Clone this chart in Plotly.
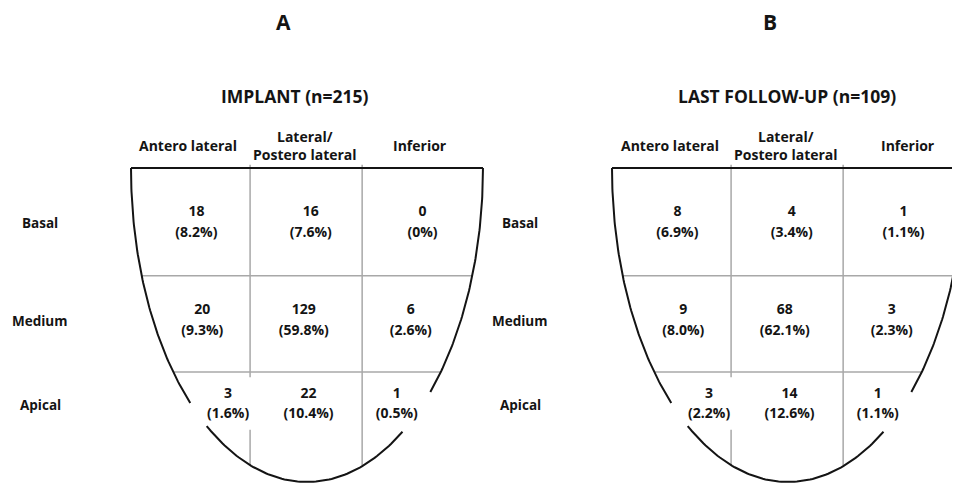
import numpy as np
import plotly.graph_objects as go

# ---------------- data ----------------
columns = ["Antero lateral", "Lateral/<br>Postero lateral", "Inferior"]
rows = ["Basal", "Medium", "Apical"]
panel_letters = ["A", "B"]
panel_titles = ["IMPLANT (n=215)", "LAST FOLLOW-UP (n=109)"]

implant_counts = [[18, 16, 0], [20, 129, 6], [3, 22, 1]]
implant_pct = [["8.2%", "7.6%", "0%"], ["9.3%", "59.8%", "2.6%"], ["1.6%", "10.4%", "0.5%"]]
followup_counts = [[8, 4, 1], [9, 68, 3], [3, 14, 1]]
followup_pct = [["6.9%", "3.4%", "1.1%"], ["8.0%", "62.1%", "2.3%"], ["2.2%", "12.6%", "1.1%"]]

# ---------------- geometry / style ----------------
COL_EDGES = [-0.5, 0.515, 1.47, 2.5]      # column boundaries (column units)
ROW_LINES = [1.03, 1.95]                  # row boundaries (row units)
ROW_Y = [0.525, 1.46, 2.26]               # text row centres
CELL_NUDGE = [[0.05, 0.04, 0.0], [0.1, -0.02, -0.1], [0.32, 0.02, -0.22]]
LINE_GAP = 0.098                          # half spacing between count and pct
ELL_CX, ELL_A, ELL_B = 1.0, 1.5, 3.0

FONT = "Open Sans"
INK = "#141414"
GRID = "#a8a8a8"

W, H = 960, 486
BODY = 8                 # page body margin offset
SX, SY = 117.33, 104.67  # px per unit
HEART_X0 = [131, 612]    # screen px of left heart edge
HEART_Y0 = 168           # screen px of top edge
FIG_DOMAINS = [(0, 500), (460, 960)]

fig = go.Figure()


def ell_pts(t0, t1, n=80):
    t = np.linspace(t0, t1, n)
    return ELL_CX + ELL_A * np.cos(t), ELL_B * np.sin(t)


def ell_x_at(y, side):
    return ELL_CX + side * ELL_A * np.sqrt(max(0.0, 1 - (y / ELL_B) ** 2))


def ell_y_at(x):
    return ELL_B * np.sqrt(max(0.0, 1 - ((x - ELL_CX) / ELL_A) ** 2))


def xu(px_screen, p):
    return (px_screen - HEART_X0[p]) / SX - 0.5


def yu(px_screen):
    return (px_screen - HEART_Y0) / SY


panels = [(implant_counts, implant_pct), (followup_counts, followup_pct)]

for p, (counts, pcts) in enumerate(panels):
    xa = "x" if p == 0 else "x2"
    ya = "y" if p == 0 else "y2"

    # ---- grid lines (grey) ----
    gx, gy = [], []
    for yl in ROW_LINES:
        gx += [ell_x_at(yl, -1), ell_x_at(yl, 1), None]
        gy += [yl, yl, None]
    x1 = COL_EDGES[1]
    gx += [x1, x1, None, x1, x1, None]
    gy += [-0.03, 2.0, None, 2.5, ell_y_at(x1), None]
    x2 = COL_EDGES[2]
    gx += [x2, x2, None]
    gy += [-0.03, ell_y_at(x2), None]
    fig.add_trace(go.Scatter(x=gx, y=gy, mode="lines", xaxis=xa, yaxis=ya,
                             line=dict(color=GRID, width=1.5), hoverinfo="skip",
                             showlegend=False))

    # ---- outline (black) ----
    ox, oy = [COL_EDGES[0], COL_EDGES[-1], None], [0, 0, None]
    for t0, t1 in [(0.0, np.arcsin(2.14 / 3)),
                   (np.arcsin(2.52 / 3), np.pi - np.arcsin(2.465 / 3)),
                   (np.pi - np.arcsin(2.245 / 3), np.pi)]:
        ex, ey = ell_pts(t0, t1)
        ox += list(ex) + [None]
        oy += list(ey) + [None]
    fig.add_trace(go.Scatter(x=ox, y=oy, mode="lines", xaxis=xa, yaxis=ya,
                             line=dict(color=INK, width=2), hoverinfo="skip",
                             showlegend=False))

    # ---- cell texts ----
    tx, ty_c, ty_p, tc, tp = [], [], [], [], []
    for r in range(3):
        for c in range(3):
            tx.append((COL_EDGES[c] + COL_EDGES[c + 1]) / 2 + CELL_NUDGE[r][c])
            ty_c.append(ROW_Y[r] - LINE_GAP)
            ty_p.append(ROW_Y[r] + LINE_GAP)
            tc.append(str(counts[r][c]))
            tp.append("(" + pcts[r][c] + ")")
    for ys, txt in [(ty_c, tc), (ty_p, tp)]:
        fig.add_trace(go.Scatter(x=tx, y=ys, text=txt, mode="text", xaxis=xa, yaxis=ya,
                                 textfont=dict(family=FONT, size=14, color=INK),
                                 texttemplate="<b>%{text}</b>", hoverinfo="skip",
                                 showlegend=False, cliponaxis=False))

    # ---- labels ----
    def lab(x, y, text, size):
        fig.add_annotation(x=x, y=y, xref=xa, yref=ya, showarrow=False,
                           text="<b>%s</b>" % text,
                           font=dict(family=FONT, color=INK, size=size))

    lab(xu([283, 770][p], p), yu(22), panel_letters[p], 21)
    lab(xu([295, 787][p], p), yu(96), panel_titles[p], 17.5)
    hdr_x = [[188, 305, 420], [670, 786, 908]][p]
    for c in range(3):
        lab(xu(hdr_x[c], p), yu(145), columns[c], 14)
    lab_x = [40, 520][p]
    for r in range(3):
        lab(xu(lab_x, p), ROW_Y[r], rows[r], 13.5)

axis_off = dict(visible=False, showgrid=False, zeroline=False, fixedrange=True)
layout_axes = {}
for p in range(2):
    d0, d1 = FIG_DOMAINS[p]
    sfx = "" if p == 0 else "2"
    layout_axes["xaxis" + sfx] = dict(domain=[d0 / W, d1 / W],
                                      range=[xu(d0 + BODY, p), xu(d1 + BODY, p)],
                                      anchor="y" + sfx, **axis_off)
    layout_axes["yaxis" + sfx] = dict(domain=[0, 1],
                                      range=[yu(H + BODY), yu(BODY)],
                                      anchor="x" + sfx, **axis_off)

fig.update_layout(
    width=W, height=H,
    margin=dict(l=0, r=0, t=0, b=0),
    paper_bgcolor="white", plot_bgcolor="rgba(0,0,0,0)",
    **layout_axes,
)

fig.write_html("out.html")
